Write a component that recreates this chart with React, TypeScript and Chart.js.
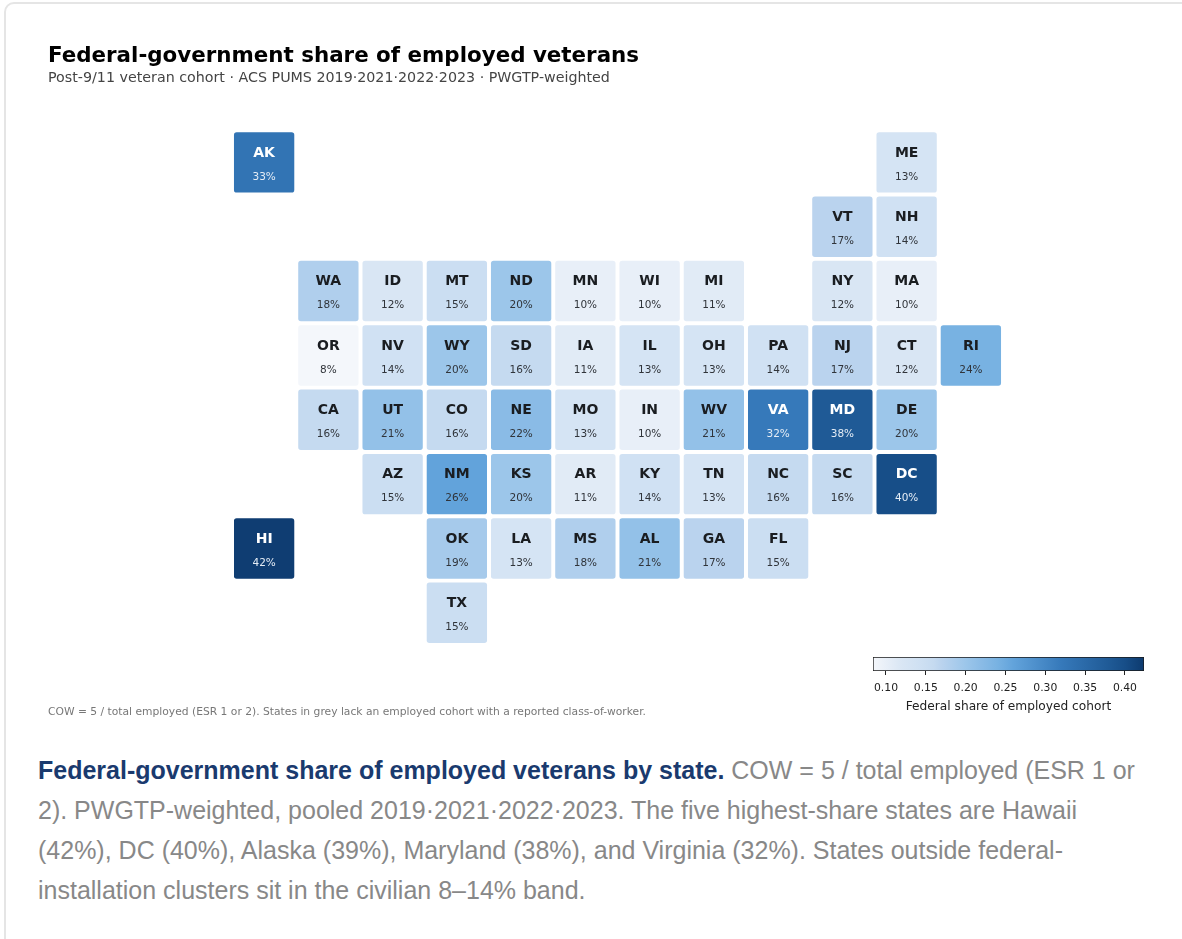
import React, { useEffect, useRef } from "react";
import { Chart, registerables } from "chart.js";

Chart.register(...registerables);

const states = ["AK","ME","VT","NH","WA","ID","MT","ND","MN","WI","MI","NY","MA","OR","NV","WY","SD","IA","IL","OH","PA","NJ","CT","RI","CA","UT","CO","NE","MO","IN","WV","VA","MD","DE","AZ","NM","KS","AR","KY","TN","NC","SC","DC","HI","OK","LA","MS","AL","GA","FL","TX"];
const columns = [0,10,9,10,1,2,3,4,5,6,7,9,10,1,2,3,4,5,6,7,8,9,10,11,1,2,3,4,5,6,7,8,9,10,2,3,4,5,6,7,8,9,10,0,3,4,5,6,7,8,3];
const rows = [0,0,1,1,2,2,2,2,2,2,2,2,2,3,3,3,3,3,3,3,3,3,3,3,4,4,4,4,4,4,4,4,4,4,5,5,5,5,5,5,5,5,5,6,6,6,6,6,6,6,7];
const shares = [0.33,0.13,0.17,0.14,0.18,0.12,0.15,0.2,0.1,0.1,0.11,0.12,0.1,0.08,0.14,0.2,0.16,0.11,0.13,0.13,0.14,0.17,0.12,0.24,0.16,0.21,0.16,0.22,0.13,0.1,0.21,0.32,0.38,0.2,0.15,0.26,0.2,0.11,0.14,0.13,0.16,0.16,0.4,0.42,0.19,0.13,0.18,0.21,0.17,0.15,0.15];
const columnLabels = ["0","1","2","3","4","5","6","7","8","9","10","11"];
const colorValues = [0.0837,0.1,0.12,0.14,0.16,0.17,0.2,0.22,0.24,0.26,0.32,0.38,0.4,0.4239];
const colorHexes = ["#f4f7fb","#e8eff8","#d9e6f4","#d0e1f3","#c5daf0","#bad3ee","#9cc6ea","#8abbe6","#78b2e2","#62a3db","#3679ba","#1f5a96","#174e88","#0d3a6e"];
const legendTicks = [0.1,0.15,0.2,0.25,0.3,0.35,0.4];

function hexToRgb(h: string) {
  return [1, 3, 5].map((i) => parseInt(h.slice(i, i + 2), 16));
}
function shareColor(v: number) {
  if (v <= colorValues[0]) return colorHexes[0];
  for (let i = 1; i < colorValues.length; i++) {
    if (v <= colorValues[i]) {
      const t = (v - colorValues[i - 1]) / (colorValues[i] - colorValues[i - 1]);
      const a = hexToRgb(colorHexes[i - 1]);
      const b = hexToRgb(colorHexes[i]);
      const c = a.map((x, k) => Math.round(x + (b[k] - x) * t));
      return `rgb(${c[0]},${c[1]},${c[2]})`;
    }
  }
  return colorHexes[colorHexes.length - 1];
}

const tileLabels = {
  id: "tileLabels",
  afterDatasetsDraw(chart: any) {
    const { ctx } = chart;
    const meta = chart.getDatasetMeta(0);
    ctx.save();
    ctx.textAlign = "center";
    ctx.textBaseline = "middle";
    meta.data.forEach((el: any, i: number) => {
      const cy = (el.y + el.base) / 2;
      const dark = shares[i] >= 0.3;
      ctx.font = 'bold 14px "DejaVu Sans"';
      ctx.fillStyle = dark ? "#ffffff" : "#1a1d21";
      ctx.fillText(states[i], el.x, cy - 9.5);
      ctx.font = '10.5px "DejaVu Sans"';
      ctx.fillStyle = dark ? "#e4ecf5" : "#30343a";
      ctx.fillText(`${Math.round(shares[i] * 100)}%`, el.x, cy + 14.5);
    });
    ctx.restore();
  },
};

const rampFill = {
  id: "rampFill",
  beforeDatasetDraw(chart: any) {
    const sx = chart.scales.x;
    const g = chart.ctx.createLinearGradient(sx.left, 0, sx.right, 0);
    const lo = colorValues[0];
    const hi = colorValues[colorValues.length - 1];
    colorValues.forEach((v, i) => g.addColorStop((v - lo) / (hi - lo), colorHexes[i]));
    chart.getDatasetMeta(0).data[0].options.backgroundColor = g;
  },
};

export default function App() {
  const mapRef = useRef<HTMLCanvasElement>(null);
  const barRef = useRef<HTMLCanvasElement>(null);

  useEffect(() => {
    const map = new Chart(mapRef.current as HTMLCanvasElement, {
      type: "bar",
      data: {
        labels: columnLabels,
        datasets: [
          {
            label: "Federal share of employed cohort",
            data: states.map((_, i) => ({ x: String(columns[i]), y: [rows[i], rows[i] + 1] })) as any,
            backgroundColor: shares.map(shareColor),
            borderColor: "#ffffff",
            borderWidth: 2.3,
            borderRadius: 5,
            borderSkipped: false,
            barPercentage: 1,
            categoryPercentage: 1,
          },
        ],
      },
      options: {
        responsive: false,
        animation: false,
        devicePixelRatio: 1,
        layout: { padding: { left: 232, top: 130.2, right: 179, bottom: 85 } },
        plugins: { legend: { display: false }, tooltip: { enabled: false } },
        scales: {
          x: { type: "category", display: false, stacked: false },
          y: { type: "linear", display: false, reverse: true, min: 0, max: 8 },
        },
      },
      plugins: [tileLabels],
    });

    const bar = new Chart(barRef.current as HTMLCanvasElement, {
      type: "bar",
      data: {
        labels: ["scale"],
        datasets: [
          {
            label: "colour scale",
            data: [[colorValues[0], colorValues[colorValues.length - 1]]] as any,
            backgroundColor: "#888888",
            borderColor: "#1a1a1a",
            borderWidth: 1,
            borderSkipped: false,
            barPercentage: 1,
            categoryPercentage: 1,
          },
        ],
      },
      options: {
        indexAxis: "y",
        responsive: false,
        animation: false,
        devicePixelRatio: 1,
        layout: { padding: { left: 33, right: 16, top: 7, bottom: 7 } },
        plugins: { legend: { display: false }, tooltip: { enabled: false } },
        scales: {
          y: { display: false },
          x: {
            type: "linear",
            min: colorValues[0],
            max: colorValues[colorValues.length - 1],
            afterBuildTicks: (axis: any) => {
              axis.ticks = legendTicks.map((value) => ({ value }));
            },
            afterFit: (axis: any) => {
              axis.height = 43;
            },
            border: { display: false },
            grid: { display: true, drawOnChartArea: false, drawTicks: true, tickLength: 4, color: "#222222", lineWidth: 1 },
            ticks: {
              autoSkip: false,
              maxRotation: 0,
              padding: 7,
              color: "#222222",
              font: { family: '"DejaVu Sans"', size: 10.8 },
              callback: (v: any) => Number(v).toFixed(2),
            },
            title: {
              display: true,
              text: "Federal share of employed cohort",
              color: "#222222",
              font: { family: '"DejaVu Sans"', size: 12.2 },
              padding: { top: 5, bottom: 0 },
            },
          },
        },
      },
      plugins: [rampFill],
    });

    return () => {
      map.destroy();
      bar.destroy();
    };
  }, []);

  return (
    <div style={{ position: "absolute", left: 0, top: 0, width: 1182, height: 939, overflow: "hidden", background: "#fff" }}>
      <div style={{ position: "absolute", left: 4, top: 2, width: 1300, height: 1100, border: "2px solid #e5e5e5", borderRadius: 10, boxSizing: "border-box" }} />
      <canvas ref={mapRef} width={1182} height={730} style={{ position: "absolute", left: 0, top: 0, display: "block" }} />
      <canvas ref={barRef} width={320} height={71} style={{ position: "absolute", left: 840, top: 650, display: "block" }} />
      <div style={{ position: "absolute", left: 48, top: 42, font: 'bold 21.4px "DejaVu Sans"', color: "#000", whiteSpace: "nowrap" }}>
        Federal-government share of employed veterans
      </div>
      <div style={{ position: "absolute", left: 48, top: 69, font: '14.25px "DejaVu Sans"', color: "#444", whiteSpace: "nowrap" }}>
        Post-9/11 veteran cohort · ACS PUMS 2019·2021·2022·2023 · PWGTP-weighted
      </div>
      <div style={{ position: "absolute", left: 48, top: 705, font: '10.72px "DejaVu Sans"', color: "#777", whiteSpace: "nowrap" }}>
        COW = 5 / total employed (ESR 1 or 2). States in grey lack an employed cohort with a reported class-of-worker.
      </div>
      <div style={{ position: "absolute", left: 38, top: 750, width: 1110, font: '25px/40px "Liberation Sans"', color: "#888" }}>
        <strong style={{ color: "#1a3a6e" }}>Federal-government share of employed veterans by state.</strong>{" "}
        COW = 5 / total employed (ESR 1 or 2). PWGTP-weighted, pooled 2019·2021·2022·2023. The five highest-share states are Hawaii (42%), DC (40%), Alaska (39%), Maryland (38%), and Virginia (32%). States outside federal-installation clusters sit in the civilian 8–14% band.
      </div>
    </div>
  );
}
